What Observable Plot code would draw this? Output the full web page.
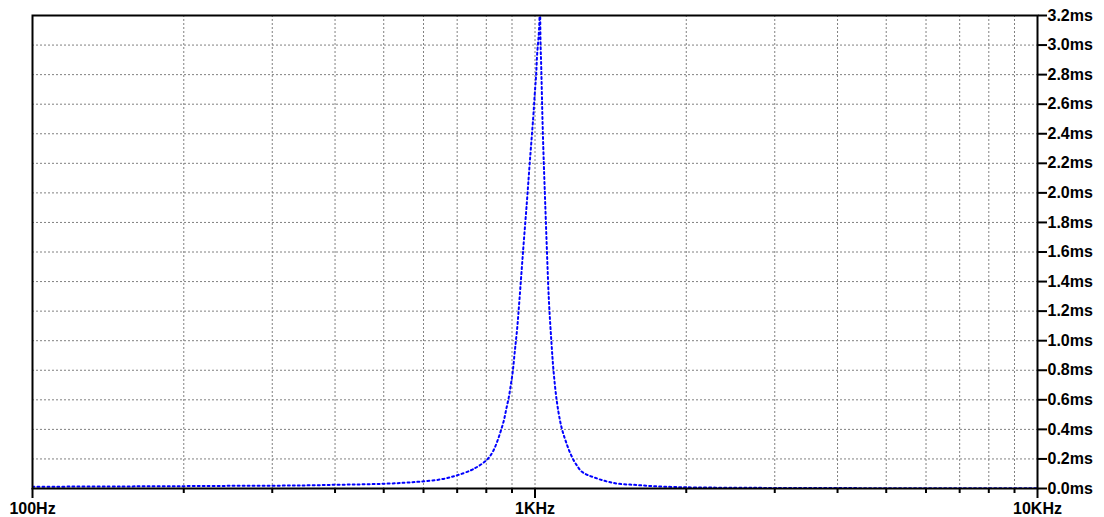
<!DOCTYPE html>
<html>
<head>
<meta charset="utf-8">
<script src="https://cdn.jsdelivr.net/npm/d3@7"></script>
<script src="https://cdn.jsdelivr.net/npm/@observablehq/plot@0.6"></script>
<style>
  html, body { margin: 0; padding: 0; background: #fff; }
  #chart svg { display: block; }
</style>
</head>
<body>
<div id="chart"></div>
<script>
// Frequency (Hz) and group delay (ms)
const freqs = [100, 150, 200, 250, 300, 350, 400, 450, 500, 550, 592, 650, 698, 744, 760, 775, 790, 803, 815, 828, 841, 855, 867, 877, 887, 895, 902, 912, 922, 931, 947, 964, 977, 992, 999, 1005.5, 1010, 1017.6, 1020.8, 1022.5, 1025.5, 1029, 1032, 1035, 1040.7, 1047.4, 1056.1, 1065.8, 1077.6, 1088.5, 1104.6, 1121.4, 1135, 1150, 1170, 1194.7, 1212, 1232, 1252, 1275, 1307.5, 1350, 1400, 1466, 1573, 1700, 1850, 2000, 2500, 3000, 4000, 5000, 7000, 10000];
const delays = [0.012, 0.014, 0.016, 0.018, 0.019, 0.021, 0.025, 0.028, 0.032, 0.039, 0.047, 0.062, 0.088, 0.122, 0.138, 0.155, 0.175, 0.196, 0.222, 0.262, 0.318, 0.390, 0.460, 0.540, 0.618, 0.700, 0.776, 0.934, 1.091, 1.272, 1.610, 1.949, 2.219, 2.512, 2.671, 2.806, 2.941, 3.077, 3.180, 3.400, 3.030, 2.850, 2.670, 2.490, 2.219, 1.949, 1.610, 1.272, 1.001, 0.798, 0.595, 0.460, 0.385, 0.325, 0.255, 0.189, 0.155, 0.122, 0.104, 0.090, 0.0765, 0.060, 0.045, 0.032, 0.025, 0.017, 0.011, 0.008, 0.005, 0.004, 0.003, 0.002, 0.0015, 0.001];

const xMajorTicks = [100, 1000, 10000];
const xMajorLabels = ["100Hz", "1KHz", "10KHz"];
const xMinorTicks = [200, 300, 400, 500, 600, 700, 800, 900, 2000, 3000, 4000, 5000, 6000, 7000, 8000, 9000];
const yTicks = [0, 0.2, 0.4, 0.6, 0.8, 1.0, 1.2, 1.4, 1.6, 1.8, 2.0, 2.2, 2.4, 2.6, 2.8, 3.0, 3.2];
const yTickLabels = ["0.0ms", "0.2ms", "0.4ms", "0.6ms", "0.8ms", "1.0ms", "1.2ms", "1.4ms", "1.6ms", "1.8ms", "2.0ms", "2.2ms", "2.4ms", "2.6ms", "2.8ms", "3.0ms", "3.2ms"];

const data = freqs.map((f, i) => ({f, d: delays[i]}));

const chart = Plot.plot({
  width: 1104,
  height: 517,
  marginLeft: 32,
  marginRight: 67,
  marginTop: 15,
  marginBottom: 29,
  x: {type: "log", domain: [100, 10000], label: null},
  y: {domain: [0, 3.2], label: null},
  style: {
    fontFamily: "'Liberation Sans', Arial, sans-serif",
    fontSize: "16px",
    fontWeight: "bold",
    color: "#000",
    background: "#fff"
  },
  marks: [
    Plot.gridX(xMinorTicks.concat([1000]), {stroke: "#808080", strokeOpacity: 1, strokeWidth: 1, strokeDasharray: "2,2"}),
    Plot.gridY(yTicks.slice(1, -1), {stroke: "#808080", strokeOpacity: 1, strokeWidth: 1, strokeDasharray: "2,2"}),
    Plot.line(data, {x: "f", y: "d", stroke: "#0000ff", strokeWidth: 2, strokeDasharray: "2,3", curve: "catmull-rom", clip: true}),
    Plot.frame({stroke: "#000", strokeWidth: 2}),
    Plot.axisX(xMinorTicks, {tickSize: 5, tickFormat: () => "", strokeWidth: 2, label: null}),
    Plot.axisX(xMajorTicks, {tickSize: 10, tickPadding: 4, strokeWidth: 2, label: null,
      tickFormat: (d) => xMajorLabels[xMajorTicks.indexOf(d)]}),
    Plot.axisY(yTicks, {anchor: "right", tickSize: 9, tickPadding: 1, strokeWidth: 2, label: null,
      tickFormat: (d) => yTickLabels[yTicks.indexOf(d)]})
  ]
});
document.getElementById("chart").appendChild(chart);
</script>
</body>
</html>
